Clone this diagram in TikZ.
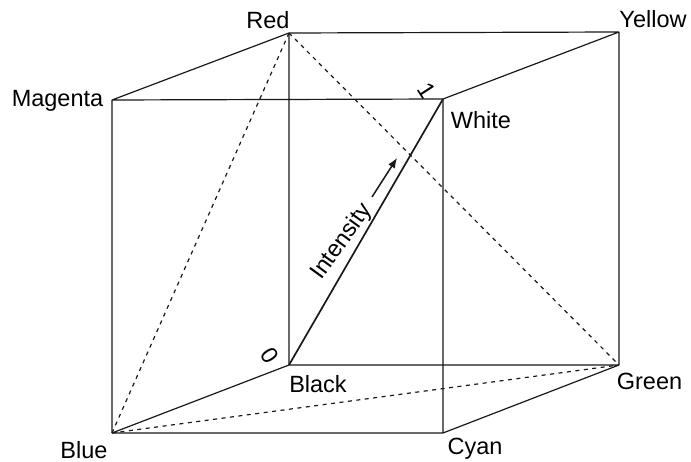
\documentclass[tikz,border=0pt]{standalone}
\usepackage{fontspec}
\setmainfont{Liberation Sans}
\usetikzlibrary{arrows.meta}
\tikzset{edge/.style={line width=1.2pt,black!90},dashedge/.style={line width=1.2pt,black!90,dash pattern=on 4pt off 4.5pt},lab/.style={font=\fontsize{23.5}{26}\selectfont,inner sep=0pt,text=black}}
\begin{document}
\begin{tikzpicture}[x=1pt,y=-1pt]
\useasboundingbox (0,0) rectangle (691,462);
\coordinate (R) at (289,33);
\coordinate (Y) at (619,32);
\coordinate (M) at (112,100);
\coordinate (W) at (443,99);
\coordinate (K) at (289,365);
\coordinate (G) at (619,365);
\coordinate (B) at (112,433);
\coordinate (C) at (443,433);
\draw[edge] (R)--(Y) (R)--(M) (Y)--(W) (M)--(W) (M)--(B) (B)--(C) (C)--(W) (C)--(G) (G)--(Y) (R)--(K) (K)--(B) (K)--(G);
\draw[line width=1.7pt,black!90] (K)--(W);
\draw[dashedge] (R)--(B) (R)--(G) (B)--(G);
\node[lab] (nR) at (268,20) {Red};
\node[lab] (nY) at (653,19) {Yellow};
\node[lab] (nM) at (57.5,101) {Magenta};
\node[lab] (nW) at (481,120) {White};
\node[lab] (nK) at (318,384) {Black};
\node[lab] (nG) at (649.5,381) {Green};
\node[lab] (nB) at (84,450) {Blue};
\node[lab] (nC) at (475,449) {Cyan};
\node[lab,rotate=-57] (n0) at (270,356) {0};
\node[lab,rotate=-57] (n1) at (427,91) {1};
\node[lab,rotate=54] (nI) at (342,242) {Intensity};
\coordinate (a1) at (372,197);
\coordinate (a2) at (397,158);
\draw[line width=1.5pt,black!90,-{Latex[length=10pt,width=8pt]}] (a1)--(a2);
\end{tikzpicture}
\end{document}
